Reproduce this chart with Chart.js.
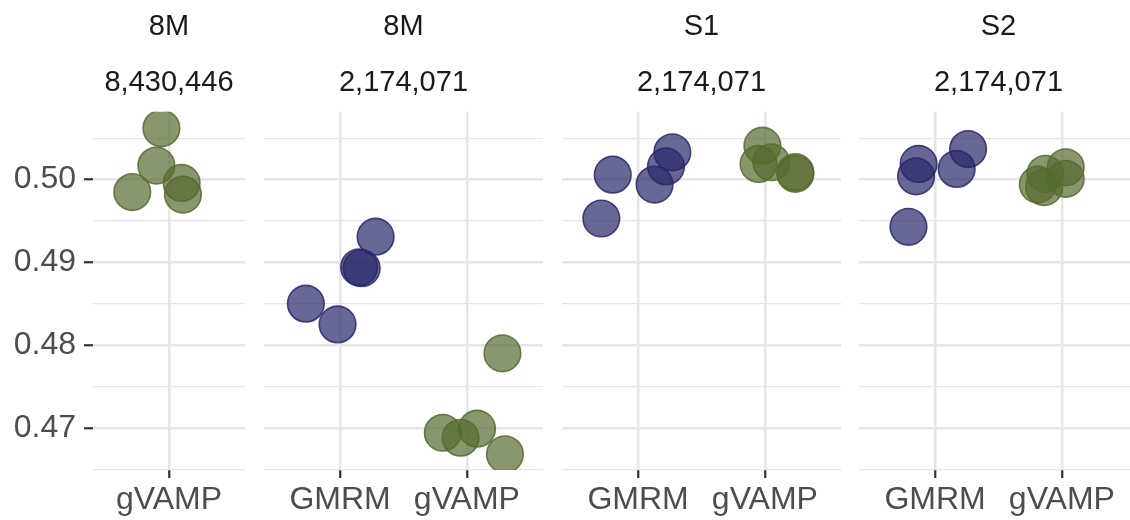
<!DOCTYPE html>
<html>
<head>
<meta charset="utf-8">
<script src="https://cdn.jsdelivr.net/npm/chart.js@4.4.0/dist/chart.umd.min.js"></script>
<style>
  html, body { margin: 0; padding: 0; background: #fff; overflow: hidden; }
  #wrap { position: relative; width: 1130px; height: 520px; overflow: hidden; }
  #wrap canvas { position: absolute; top: 0; }
</style>
</head>
<body>
<div id="wrap"></div>
<script>
/* ===== data ===== */
const stripTop = ['8M', '8M', 'S1', 'S2'];
const stripCount = ['8,430,446', '2,174,071', '2,174,071', '2,174,071'];
const panelMethods = [['gVAMP'], ['GMRM', 'gVAMP'], ['GMRM', 'gVAMP'], ['GMRM', 'gVAMP']];
const yTicks = [0.465, 0.47, 0.475, 0.48, 0.485, 0.49, 0.495, 0.50, 0.505];

// panel 1 (8M / 8,430,446)
const p1GvampY   = [0.5062, 0.5017, 0.4985, 0.4996, 0.4982];
const p1GvampJit = [-0.06, -0.10, -0.29, 0.10, 0.11];
// panel 2 (8M / 2,174,071)
const p2GmrmY    = [0.4931, 0.4894, 0.4893, 0.4850, 0.4825];
const p2GmrmJit  = [0.28, 0.15, 0.17, -0.27, -0.02];
const p2GvampY   = [0.4790, 0.4694, 0.4699, 0.4688, 0.4668];
const p2GvampJit = [0.28, -0.19, 0.08, -0.05, 0.30];
// panel 3 (S1)
const p3GmrmY    = [0.5006, 0.4953, 0.4994, 0.5016, 0.5033];
const p3GmrmJit  = [-0.20, -0.29, 0.13, 0.22, 0.27];
const p3GvampY   = [0.5041, 0.5019, 0.5021, 0.5009, 0.5007];
const p3GvampJit = [-0.02, -0.05, 0.05, 0.24, 0.24];
// panel 4 (S2)
const p4GmrmY    = [0.5019, 0.5004, 0.5013, 0.5037, 0.4943];
const p4GmrmJit  = [-0.13, -0.15, 0.17, 0.26, -0.21];
const p4GvampY   = [0.4994, 0.4991, 0.5007, 0.5015, 0.5001];
const p4GvampJit = [-0.19, -0.14, -0.13, 0.03, 0.03];

const panelY   = [[p1GvampY], [p2GmrmY, p2GvampY], [p3GmrmY, p3GvampY], [p4GmrmY, p4GvampY]];
const panelJit = [[p1GvampJit], [p2GmrmJit, p2GvampJit], [p3GmrmJit, p3GvampJit], [p4GmrmJit, p4GvampJit]];

/* ===== layout / style ===== */
const Y_MIN = 0.4649, Y_MAX = 0.5082;
const panelBox = [
  { left: 0,   width: 245, axis: 93 },
  { left: 264, width: 279, axis: 0 },
  { left: 562, width: 279, axis: 0 },
  { left: 859, width: 279, axis: 0 }
];
const colors = {
  GMRM:  { fill: 'rgba(40,40,105,0.7)', line: 'rgba(40,40,105,0.85)' },
  gVAMP: { fill: 'rgba(85,107,47,0.7)', line: 'rgba(85,107,47,0.85)' }
};
const GRID = '#E6E6E6';
const FONT = '"Liberation Sans", Arial, Helvetica, sans-serif';
Chart.defaults.font.family = FONT;

const isMajor = v => Math.abs(v * 100 - Math.round(v * 100)) < 1e-6;

function makePanel(i) {
  const box = panelBox[i];
  const first = box.axis > 0;
  const methods = panelMethods[i];

  const canvas = document.createElement('canvas');
  canvas.width = box.width;
  canvas.height = 520;
  canvas.style.left = box.left + 'px';
  canvas.style.width = box.width + 'px';
  canvas.style.height = '520px';
  document.getElementById('wrap').appendChild(canvas);

  const datasets = methods.map((m, k) => ({
    label: m,
    data: panelY[i][k].map((v, j) => ({ x: k + panelJit[i][k][j], y: v })),
    backgroundColor: colors[m].fill,
    borderColor: colors[m].line,
    borderWidth: 1.6,
    pointRadius: 18.3,
    pointHoverRadius: 18.3,
    clip: 0
  }));

  const stripFont = { family: FONT, size: 29, weight: 'normal', lineHeight: 1.2 };

  new Chart(canvas, {
    type: 'scatter',
    data: { datasets },
    options: {
      responsive: false,
      animation: false,
      events: [],
      layout: { padding: 0, autoPadding: false },
      plugins: {
        legend: { display: false },
        tooltip: { enabled: false },
        title: {
          display: true, text: stripTop[i], fullSize: false,
          color: '#1A1A1A', font: stripFont, padding: { top: 10, bottom: 0 }
        },
        subtitle: {
          display: true, text: stripCount[i], fullSize: false,
          color: '#1A1A1A', font: stripFont, padding: { top: 20.4, bottom: 11.8 }
        }
      },
      scales: {
        x: {
          type: 'linear',
          min: -0.6,
          max: methods.length - 0.4,
          afterBuildTicks: s => { s.ticks = methods.map((m, k) => ({ value: k })); },
          afterFit: s => { s.height = 50; },
          ticks: {
            callback: v => methods[v],
            color: '#4D4D4D',
            font: { family: FONT, size: 32 },
            padding: 3,
            maxRotation: 0,
            autoSkip: false
          },
          grid: {
            color: GRID, lineWidth: 2.5,
            drawTicks: true, tickLength: 8, tickColor: '#333333', tickWidth: 2.2
          },
          border: { display: false }
        },
        y: {
          type: 'linear',
          min: Y_MIN,
          max: Y_MAX,
          afterBuildTicks: s => { s.ticks = yTicks.map(v => ({ value: v })); },
          afterFit: s => { s.width = box.axis; },
          ticks: {
            display: first,
            callback: v => isMajor(v) ? v.toFixed(2) : '',
            color: '#4D4D4D',
            font: { family: FONT, size: 32 },
            padding: 8,
            autoSkip: false
          },
          grid: {
            color: GRID,
            lineWidth: c => (c.tick && isMajor(c.tick.value)) ? 2.5 : 1.3,
            drawTicks: first,
            tickLength: 9,
            tickColor: c => (c.tick && isMajor(c.tick.value)) ? '#333333' : 'rgba(0,0,0,0)',
            tickWidth: 2.2
          },
          border: { display: false }
        }
      }
    }
  });
}

panelMethods.forEach((m, i) => makePanel(i));
</script>
</body>
</html>
